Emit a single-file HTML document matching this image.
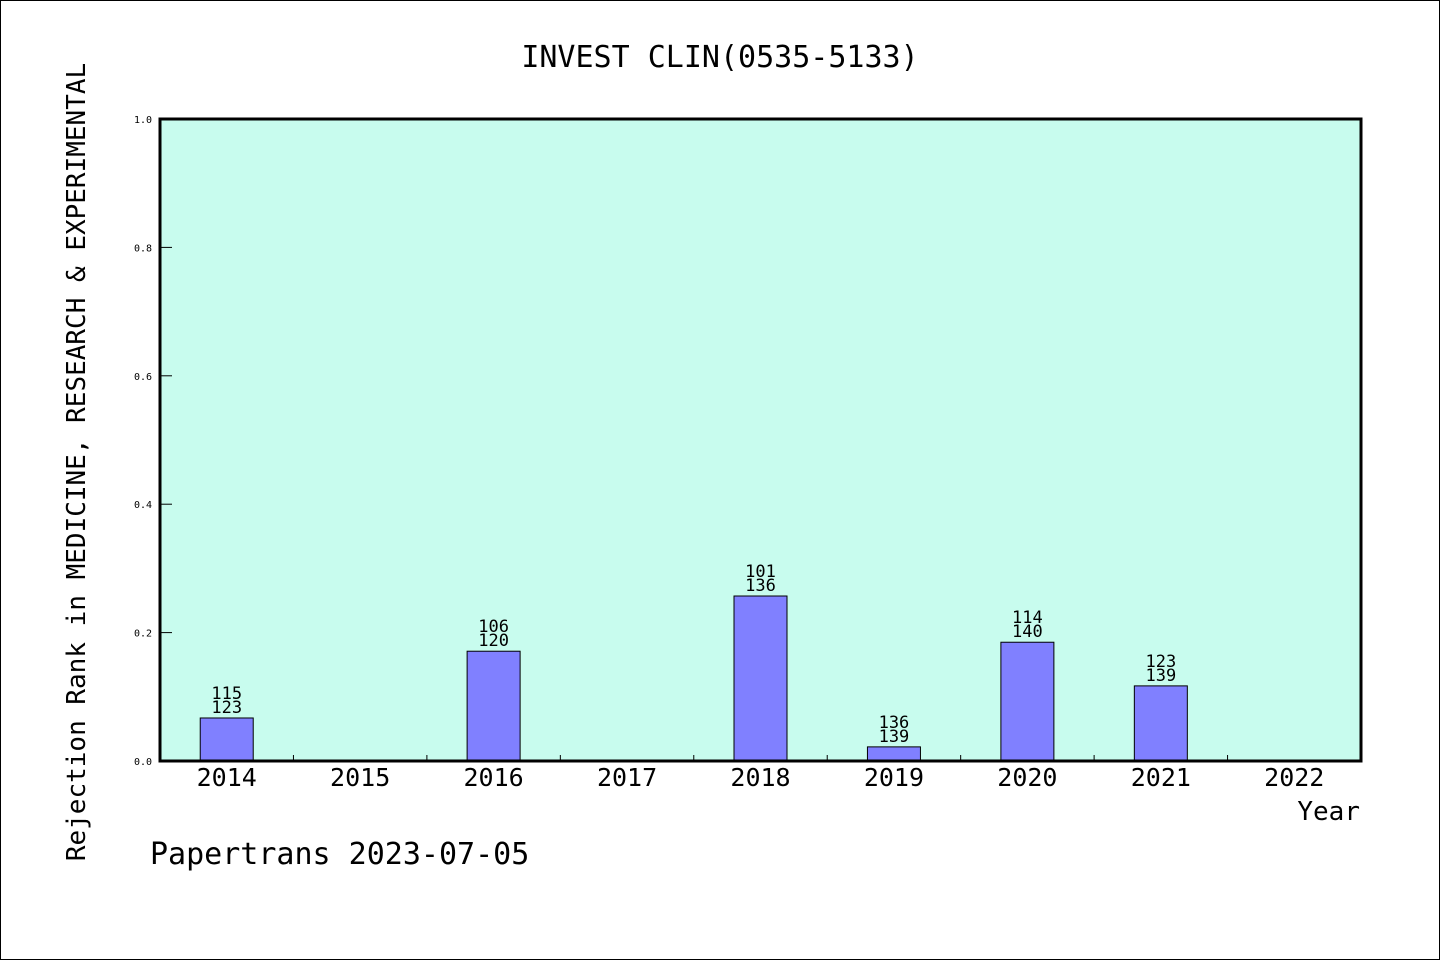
<!DOCTYPE html>
<html><head><meta charset="utf-8"><style>
body{margin:0;background:#fff}
svg text{font-family:"WenQuanYi Zen Hei","DejaVu Sans Mono",monospace;fill:#000}
</style></head><body>
<svg width="1440" height="960" xmlns="http://www.w3.org/2000/svg">
<rect x="0.5" y="0.5" width="1439" height="959" fill="#fff" stroke="#000"/>
<text x="720" y="67" font-size="30" text-anchor="middle">INVEST CLIN(0535-5133)</text>
<rect x="160" y="119" width="1201" height="642" fill="#c8fcee"/>
<g id="bars"></g>
<g id="yt"></g>
<g id="xt"></g>
<rect x="160" y="119" width="1201" height="642" fill="none" stroke="#000" stroke-width="3"/>
<text x="1360" y="820" font-size="26" text-anchor="end">Year</text>
<text transform="translate(85,462) rotate(-90)" font-size="26" text-anchor="middle">Rejection Rank in MEDICINE, RESEARCH &amp; EXPERIMENTAL</text>
<text x="150" y="864" font-size="30">Papertrans 2023-07-05</text>
</svg>
<script>
const categories=["2014","2015","2016","2017","2018","2019","2020","2021","2022"];
const values=[0.067,0,0.171,0,0.257,0.022,0.185,0.117,0];
const labelTop=["115","","106","","101","136","114","123",""];
const labelBottom=["123","","120","","136","139","140","139",""];
const yTicks=[0,0.2,0.4,0.6,0.8,1.0];
const NS="http://www.w3.org/2000/svg";
const L=160,R=1361,T=119,B=761;
const step=(R-L)/categories.length;
const xc=i=>L+step*(i+0.5);
const y=v=>B-v*(B-T);
function mk(t,a,p){const e=document.createElementNS(NS,t);for(const k in a)e.setAttribute(k,a[k]);p.appendChild(e);return e;}
const bars=document.getElementById('bars'),yt=document.getElementById('yt'),xt=document.getElementById('xt');
categories.forEach((c,i)=>{
  if(values[i]>0){
    const r=mk('rect',{x:xc(i)-26.5,y:y(values[i]),width:53,height:B-y(values[i]),fill:'#8080ff',stroke:'#000','stroke-width':1},bars);
    
    
    const t1=mk('text',{x:xc(i),y:y(values[i])-19,'font-size':17,'text-anchor':'middle'},bars);
    t1.textContent=labelTop[i];
    
    
    const t2=mk('text',{x:xc(i),y:y(values[i])-5,'font-size':17,'text-anchor':'middle'},bars);
    t2.textContent=labelBottom[i];
    
    
  }
  const tl=mk('text',{x:xc(i),y:B+25,'font-size':25,'text-anchor':'middle'},xt);
  tl.textContent=c;
  
  
  if(i>0){
    const ln=mk('line',{x1:L+step*i,x2:L+step*i,y1:B,y2:B-6,stroke:'#000'},xt);
    
    
  }
});
yTicks.forEach(v=>{
  const ln=mk('line',{x1:L,x2:L+12,y1:y(v),y2:y(v),stroke:'#000'},yt);
  
  
  const t=mk('text',{x:152,y:y(v)+4,'font-size':10,'text-anchor':'end'},yt);
  t.textContent=v.toFixed(1);
  
  
});
</script>
</body></html>
